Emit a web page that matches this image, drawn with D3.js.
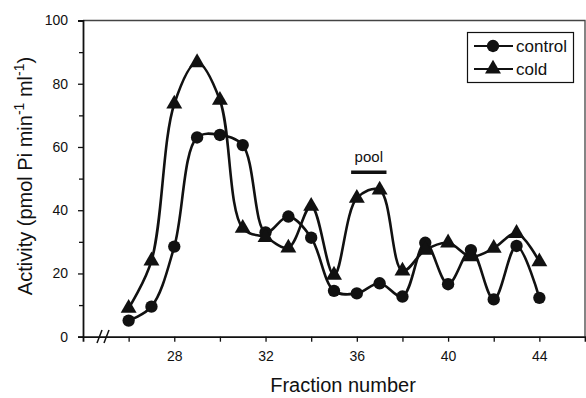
<!DOCTYPE html>
<html>
<head>
<meta charset="utf-8">
<script src="https://cdn.jsdelivr.net/npm/d3@7"></script>
<style>
  body { margin: 0; background: #fff; }
  svg { display: block; font-family: "Liberation Sans", Arial, sans-serif; }
</style>
</head>
<body>
<svg id="chart" width="586" height="398"></svg>
<script>
// fractions and activities
var fractions = [26, 27, 28, 29, 30, 31, 32, 33, 34, 35, 36, 37, 38, 39, 40, 41, 42, 43, 44];
var control = [5.1, 9.5, 28.5, 63, 63.8, 60.6, 33, 38, 31.3, 14.5, 13.7, 16.9, 12.7, 29.7, 16.6, 27.4, 11.8, 28.7, 12.3];
var cold = [9, 24, 73.6, 86.7, 74.8, 34.3, 31.4, 28.1, 41.3, 19.5, 43.8, 46.4, 20.8, 27.4, 29.7, 25.3, 28, 32.7, 23.7];
var xTicks = [28, 32, 36, 40, 44];
var xMinor = [26, 30, 34, 38, 42];
var yTicks = [0, 20, 40, 60, 80, 100];
var yMinor = [10, 30, 50, 70, 90];
var poolRange = [35.75, 37.3];
var poolLevel = 52;

var svg = d3.select("#chart");

var x = d3.scaleLinear().domain([24, 46]).range([83, 585]);
var y = d3.scaleLinear().domain([0, 100]).range([336.7, 20.5]);

var ink = "#111";

// frame (top and right)
svg.append("path")
    .attr("d", "M" + x(24) + "," + y(100) + "H" + x(46) + "V" + y(0))
    .attr("fill", "none")
    .attr("stroke", "#444")
    .attr("stroke-width", 1.3);

// x axis
svg.append("g")
    .attr("transform", "translate(0," + y(0) + ")")
    .call(d3.axisBottom(x).tickValues(xTicks).tickSize(5).tickPadding(9).tickFormat(d3.format("d")));
svg.append("g")
    .attr("transform", "translate(0," + y(0) + ")")
    .call(d3.axisBottom(x).tickValues(xMinor).tickSize(5).tickFormat(""))
    .select(".domain").remove();

// y axis
svg.append("g")
    .attr("transform", "translate(" + x(24) + ",0)")
    .call(d3.axisLeft(y).tickValues(yTicks).tickSize(5).tickPadding(10));
svg.append("g")
    .attr("transform", "translate(" + x(24) + ",0)")
    .call(d3.axisLeft(y).tickValues(yMinor).tickSize(4).tickFormat(""))
    .select(".domain").remove();

svg.selectAll(".domain").attr("stroke", ink).attr("stroke-width", 1.8);
svg.selectAll(".tick line").attr("stroke", ink).attr("stroke-width", 1.3);
svg.selectAll(".tick text")
    .attr("font-size", 14)
    .attr("fill", ink)
    .attr("font-family", "Liberation Sans, Arial, sans-serif");

// axis break marks
[0, 7].forEach(function(dx) {
  svg.append("line")
      .attr("x1", 97 + dx).attr("y1", 343)
      .attr("x2", 102 + dx).attr("y2", 330)
      .attr("stroke", ink)
      .attr("stroke-width", 1.5);
});

// axis titles
svg.append("text")
    .attr("x", 343)
    .attr("y", 392)
    .attr("text-anchor", "middle")
    .attr("font-size", 20)
    .attr("fill", ink)
    .text("Fraction number");

var yl = svg.append("text")
    .attr("transform", "translate(32,176) rotate(-90)")
    .attr("text-anchor", "middle")
    .attr("font-size", 20)
    .attr("fill", ink);
yl.append("tspan").text("Activity (pmol Pi min");
yl.append("tspan").attr("dy", -8).attr("font-size", 14).text("-1");
yl.append("tspan").attr("dy", 8).text(" ml");
yl.append("tspan").attr("dy", -8).attr("font-size", 14).text("-1");
yl.append("tspan").attr("dy", 8).text(")");

// curves
var line = d3.line()
    .x(function(d) { return x(d[0]); })
    .y(function(d) { return y(d[1]); })
    .curve(d3.curveCatmullRom.alpha(0.5));

var controlPts = fractions.map(function(f, i) { return [f, control[i]]; });
var coldPts = fractions.map(function(f, i) { return [f, cold[i]]; });

[controlPts, coldPts].forEach(function(pts) {
  svg.append("path")
      .datum(pts)
      .attr("fill", "none")
      .attr("stroke", ink)
      .attr("stroke-width", 2.6)
      .attr("d", line);
});

var circleSym = d3.symbol().type(d3.symbolCircle).size(120);
var triSym = d3.symbol().type(d3.symbolTriangle).size(110);

svg.selectAll(".ctl")
    .data(controlPts)
    .enter().append("path")
    .attr("class", "ctl")
    .attr("transform", function(d) { return "translate(" + x(d[0]) + "," + y(d[1]) + ")"; })
    .attr("d", circleSym)
    .attr("fill", ink);

svg.selectAll(".cld")
    .data(coldPts)
    .enter().append("path")
    .attr("class", "cld")
    .attr("transform", function(d) { return "translate(" + x(d[0]) + "," + y(d[1]) + ")"; })
    .attr("d", triSym)
    .attr("fill", ink);

// pool bar
svg.append("line")
    .attr("x1", x(poolRange[0])).attr("x2", x(poolRange[1]))
    .attr("y1", y(poolLevel)).attr("y2", y(poolLevel))
    .attr("stroke", ink)
    .attr("stroke-width", 3.5);
svg.append("text")
    .attr("x", x((poolRange[0] + poolRange[1]) / 2))
    .attr("y", y(poolLevel) - 10)
    .attr("text-anchor", "middle")
    .attr("font-size", 15)
    .attr("fill", ink)
    .text("pool");

// legend
var lg = svg.append("g");
lg.append("rect")
    .attr("x", 467.5).attr("y", 32.5)
    .attr("width", 106).attr("height", 50)
    .attr("fill", "#fff")
    .attr("stroke", ink)
    .attr("stroke-width", 1.2);
var entries = [{ name: "control", sym: circleSym, y: 46 }, { name: "cold", sym: triSym, y: 69 }];
entries.forEach(function(e) {
  lg.append("line")
      .attr("x1", 474).attr("x2", 513)
      .attr("y1", e.y).attr("y2", e.y)
      .attr("stroke", ink)
      .attr("stroke-width", 2);
  lg.append("path")
      .attr("transform", "translate(493," + e.y + ")")
      .attr("d", e.sym)
      .attr("fill", ink);
  lg.append("text")
      .attr("x", 516)
      .attr("y", e.y + 6)
      .attr("font-size", 17)
      .attr("fill", ink)
      .text(e.name);
});
</script>
</body>
</html>
